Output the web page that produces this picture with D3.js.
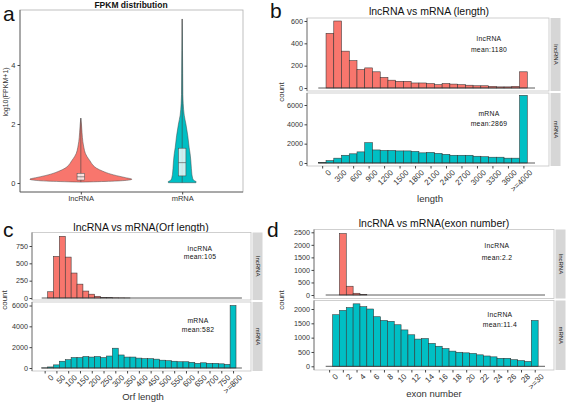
<!DOCTYPE html>
<html><head><meta charset="utf-8">
<script src="https://cdn.jsdelivr.net/npm/d3@7"></script>
<style>body{margin:0;background:#fff}svg{display:block;font-family:"Liberation Sans",Arial,sans-serif}</style>
</head><body><svg id="c" width="567" height="405"></svg>
<script>
// ---------------- DATA ----------------
const groups = ["lncRNA", "mRNA"];
const colors = ["#F8766D", "#00BFC4"];

// panel a: violin density profiles (log10(FPKM+1) level -> relative density)
const lncLevels  = [0.03,0.06,0.1,0.13,0.18,0.25,0.3,0.4,0.5,0.6,0.75,0.9,1.0,1.2,1.4,1.7,2.0,2.2];
const lncDensity = [0,0.6,0.94,1,0.88,0.7,0.59,0.43,0.31,0.24,0.18,0.12,0.09,0.06,0.04,0.024,0.012,0];
const mLevels    = [0.01,0.04,0.1,0.2,0.3,0.5,0.75,1.0,1.2,1.6,2.0,2.3,2.7,3.0,3.7,4.5,5.56];
const mDensity   = [0.27,0.275,0.22,0.2,0.19,0.18,0.17,0.155,0.137,0.11,0.073,0.04,0.02,0.013,0.01,0.006,0];
const boxQ1  = [0.10, 0.24];
const boxMed = [0.21, 0.69];
const boxQ3  = [0.33, 1.18];
const whiskLo = [0.03, 0.01];
const whiskHi = [2.2, 5.56];
const aTicks = [0, 2, 4];

// panel b: transcript length histogram (bin centres, width 150)
const lenBins = [0,150,300,450,600,750,900,1050,1200,1350,1500,1650,1800,1950,2100,2250,2400,2550,2700,2850,3000,3150,3300,3450,3600,3750,3900,4050];
const lenLnc  = [0,490,600,330,245,165,180,145,95,70,60,60,45,45,40,30,40,35,30,25,20,20,15,10,10,15,145,0];
const lenM    = [50,250,500,800,950,1150,2100,1350,1300,1300,1250,1250,1200,1050,1100,1000,900,800,800,800,700,650,600,600,500,500,7000,0];
const lenTicks = [0,300,600,900,1200,1500,1800,2100,2400,2700,3000,3300,3600,3900];
const lenTickLabels = ["0","300","600","900","1200","1500","1800","2100","2400","2700","3000","3300","3600",">=4000"];
const lenYTop = [0,200,400,600];
const lenYBot = [0,2000,4000,6000];

// panel c: ORF length histogram (bin centres, width 25)
const orfBins = [0,25,50,75,100,125,150,175,200,225,250,275,300,325,350,375,400,425,450,475,500,525,550,575,600,625,650,675,700,725,750,775,800,825];
const orfLnc  = [0,90,600,890,590,360,200,100,55,25,10,5,3,2,1,0,0,0,0,0,0,0,0,0,0,0,0,0,0,0,0,0,0,0];
const orfM    = [10,100,300,650,800,1000,1000,1100,1050,1100,1000,1150,1900,1250,1050,1050,950,900,900,850,750,700,650,600,600,550,450,500,450,450,400,350,6000,0];
const orfTicks = [0,50,100,150,200,250,300,350,400,450,500,550,600,650,700,750,800];
const orfTickLabels = ["0","50","100","150","200","250","300","350","400","450","500","550","600","650","700","750",">=800"];
const orfYTop = [0,250,500,750];
const orfYBot = [0,2000,4000,6000];

// panel d: exon number histogram (bin centres, width 1)
const exonBins = [0,1,2,3,4,5,6,7,8,9,10,11,12,13,14,15,16,17,18,19,20,21,22,23,24,25,26,27,28,29,30,31];
const exonLnc  = [0,0,2450,350,70,20,0,0,0,0,0,0,0,0,0,0,0,0,0,0,0,0,0,0,0,0,0,0,0,0,0,0];
const exonM    = [0,1800,1950,2050,2180,2080,2000,1730,1600,1570,1450,1270,1100,950,970,800,700,620,530,490,470,450,400,360,330,280,280,230,200,170,1600,0];
const exonTicks = [0,2,4,6,8,10,12,14,16,18,20,22,24,26,28,30];
const exonTickLabels = ["0","2","4","6","8","10","12","14","16","18","20","22","24","26","28",">=30"];
const exonYTop = [0,500,1000,1500,2000,2500];
const exonYBot = [0,500,1000,1500,2000];

// ---------------- DRAW ----------------
const svg = d3.select("#c");
const TXT = "#333";
const fmt = d3.format("d");

function letter(t, x, y) {
  svg.append("text").attr("x", x).attr("y", y).attr("font-size", 21).attr("fill", "#111").text(t);
}

// ===== Panel a =====
(function () {
  const P = {x0: 20, x1: 243, y0: 10, y1: 192};
  const x = d3.scalePoint().domain(groups).range([P.x0, P.x1]).padding(0.6);
  const y = d3.scaleLinear().domain([0, 4]).range([183, 65]);
  const w = d3.scaleLinear().domain([0, 1]).range([0, 51]);
  letter("a", 3, 21);
  svg.append("text").attr("x", 131).attr("y", 8).attr("text-anchor", "middle")
    .attr("font-size", 8.5).attr("font-weight", "bold").attr("fill", "#111").text("FPKM distribution");
  svg.append("rect").attr("x", P.x0).attr("y", P.y0).attr("width", P.x1 - P.x0).attr("height", P.y1 - P.y0)
    .attr("fill", "#fff").attr("stroke", "#b0b0b0").attr("stroke-width", 0.8);
  svg.append("line").attr("x1", P.x0).attr("x2", P.x0).attr("y1", P.y0).attr("y2", P.y1).attr("stroke", "#555").attr("stroke-width", 0.8);
  svg.append("line").attr("x1", P.x0).attr("x2", P.x1).attr("y1", P.y1).attr("y2", P.y1).attr("stroke", "#555").attr("stroke-width", 0.8);

  const profiles = [
    lncLevels.map((l, i) => ({l, d: lncDensity[i]})),
    mLevels.map((l, i) => ({l, d: mDensity[i]}))
  ];
  groups.forEach((g, gi) => {
    const cx = x(g);
    const area = d3.area().y(d => y(d.l)).x0(d => cx - w(d.d)).x1(d => cx + w(d.d)).curve(d3.curveMonotoneY);
    svg.append("path").datum(profiles[gi]).attr("d", area)
      .attr("fill", colors[gi]).attr("stroke", "#444").attr("stroke-width", 0.5);
    svg.append("line").attr("x1", cx).attr("x2", cx).attr("y1", y(whiskLo[gi])).attr("y2", y(whiskHi[gi]))
      .attr("stroke", "#444").attr("stroke-width", 0.6);
    const bw = 7.5;
    svg.append("rect").attr("x", cx - bw / 2).attr("width", bw).attr("y", y(boxQ3[gi])).attr("height", y(boxQ1[gi]) - y(boxQ3[gi]))
      .attr("fill", "#fff").attr("fill-opacity", 0.78).attr("stroke", "#444").attr("stroke-width", 0.5);
    svg.append("line").attr("x1", cx - bw / 2).attr("x2", cx + bw / 2).attr("y1", y(boxMed[gi])).attr("y2", y(boxMed[gi]))
      .attr("stroke", "#444").attr("stroke-width", 0.6);
  });
  // axes
  const ya = svg.append("g").attr("transform", `translate(${P.x0},0)`)
    .call(d3.axisLeft(y).tickValues(aTicks).tickFormat(fmt).tickSize(2.5).tickPadding(2));
  ya.select(".domain").remove();
  ya.selectAll("text").attr("font-size", 7.5).attr("fill", TXT).attr("font-family", null);
  ya.selectAll("line").attr("stroke", "#444");
  const xa = svg.append("g").attr("transform", `translate(0,${P.y1})`)
    .call(d3.axisBottom(x).tickSize(2.5).tickPadding(1.5));
  xa.select(".domain").remove();
  xa.selectAll("text").attr("font-size", 7.5).attr("fill", TXT).attr("font-family", null);
  xa.selectAll("line").attr("stroke", "#444");
  svg.append("text").attr("transform", "translate(7.5,92) rotate(-90)").attr("text-anchor", "middle")
    .attr("font-size", 7).attr("fill", TXT).text("log10(FPKM+1)");
})();

// ===== Histogram panels =====
function histPanel(o) {
  letter(o.letter, o.letterPos[0], o.letterPos[1]);
  svg.append("text").attr("x", o.titleX).attr("y", o.titleY).attr("text-anchor", "middle")
    .attr("font-size", 10.5).attr("fill", "#111").text(o.title);
  const x = d3.scaleLinear().domain(o.xDom).range(o.xRange);
  const half = o.binW / 2;
  o.facets.forEach((f, fi) => {
    svg.append("rect").attr("x", o.px0).attr("y", f.py0).attr("width", o.px1 - o.px0).attr("height", f.py1 - f.py0)
      .attr("fill", "#fff").attr("stroke", "#c4c4c4").attr("stroke-width", 0.8);
    svg.append("line").attr("x1", o.px0).attr("x2", o.px0).attr("y1", f.py0).attr("y2", f.py1)
      .attr("stroke", "#666").attr("stroke-width", 0.8);
    const y = d3.scaleLinear().domain([0, f.refVal]).range([f.zeroY, f.refY]);
    const data = o.bins.map((b, i) => ({b, v: f.values[i]}));
    svg.append("g").selectAll("rect").data(data.filter(d => d.v > 0)).join("rect")
      .attr("x", d => x(d.b - half)).attr("width", d => x(d.b + half) - x(d.b - half))
      .attr("y", d => y(d.v)).attr("height", d => y(0) - y(d.v))
      .attr("fill", colors[fi]).attr("stroke", "#333").attr("stroke-width", 0.55);
    svg.append("line").attr("x1", x(o.bins[0] - half)).attr("x2", x(o.bins[o.bins.length - 1] + half))
      .attr("y1", y(0)).attr("y2", y(0)).attr("stroke", "#333").attr("stroke-width", 0.8);
    const ya = svg.append("g").attr("transform", `translate(${o.px0},0)`)
      .call(d3.axisLeft(y).tickValues(f.yTicks).tickFormat(fmt).tickSize(2.5).tickPadding(1.5));
    ya.select(".domain").remove();
    ya.selectAll("text").attr("font-size", 7.2).attr("fill", TXT).attr("font-family", null);
    ya.selectAll("line").attr("stroke", "#444");
    // strip
    svg.append("rect").attr("x", o.px1 + 1.5).attr("y", f.py0).attr("width", 10).attr("height", f.py1 - f.py0)
      .attr("fill", "#d6d6d6");
    svg.append("text").attr("transform", `translate(${o.px1 + 4.5},${(f.py0 + f.py1) / 2}) rotate(90)`)
      .attr("text-anchor", "middle").attr("font-size", 6).attr("fill", "#222").text(groups[fi]);
    // annotation
    f.ann.forEach((t, k) => {
      svg.append("text").attr("x", f.annX).attr("y", f.annY[k]).attr("text-anchor", "middle")
        .attr("font-size", 6.8).attr("letter-spacing", 0.3).attr("fill", "#111").text(t);
    });
  });
  const last = o.facets[o.facets.length - 1];
  const xa = svg.append("g").attr("transform", `translate(0,${last.py1})`)
    .call(d3.axisBottom(x).tickValues(o.ticks).tickFormat((d, i) => o.tickLabels[i]).tickSize(2.5));
  xa.select(".domain").remove();
  xa.selectAll("line").attr("stroke", "#444");
  xa.selectAll("text").attr("font-size", 8).attr("fill", TXT).attr("font-family", null)
    .attr("text-anchor", "end").attr("transform", "translate(3,1) rotate(-45)").attr("dy", "0.7em").attr("y", 3);
  svg.append("text").attr("x", o.xTitleX).attr("y", o.xTitleY).attr("text-anchor", "middle")
    .attr("font-size", 9.5).attr("fill", TXT).text(o.xTitle);
  svg.append("text").attr("transform", `translate(${o.yTitleX},${o.yTitleY}) rotate(-90)`).attr("text-anchor", "middle")
    .attr("font-size", 8).attr("fill", TXT).text("count");
}

histPanel({
  letter: "b", letterPos: [270, 18],
  title: "lncRNA vs mRNA (length)", titleX: 429, titleY: 15,
  px0: 307, px1: 549, bins: lenBins, binW: 150,
  xDom: [-75, 4125], xRange: [318.3, 535],
  ticks: lenTicks, tickLabels: lenTickLabels,
  xTitle: "length", xTitleX: 430, xTitleY: 202, yTitleX: 284, yTitleY: 92,
  facets: [
    {py0: 18, py1: 91, zeroY: 88, refVal: 600, refY: 21, values: lenLnc, yTicks: lenYTop,
     ann: ["lncRNA", "mean:1180"], annX: 489, annY: [40.5, 51.5]},
    {py0: 93, py1: 166, zeroY: 163, refVal: 6000, refY: 105, values: lenM, yTicks: lenYBot,
     ann: ["mRNA", "mean:2869"], annX: 489, annY: [115.5, 126]}
  ]
});

histPanel({
  letter: "c", letterPos: [3, 237],
  title: "lncRNA vs mRNA(Orf length)", titleX: 141, titleY: 230.5,
  px0: 32, px1: 251, bins: orfBins, binW: 25,
  xDom: [-12.5, 837.5], xRange: [41.7, 241.9],
  ticks: orfTicks, tickLabels: orfTickLabels,
  xTitle: "Orf length", xTitleX: 143, xTitleY: 400, yTitleX: 7, yTitleY: 300,
  facets: [
    {py0: 232.5, py1: 300, zeroY: 298, refVal: 750, refY: 246, values: orfLnc, yTicks: orfYTop,
     ann: ["lncRNA", "mean:105"], annX: 200, annY: [250.5, 259]},
    {py0: 302, py1: 371, zeroY: 368, refVal: 6000, refY: 305.5, values: orfM, yTicks: orfYBot,
     ann: ["mRNA", "mean:582"], annX: 198, annY: [322.5, 332]}
  ]
});

histPanel({
  letter: "d", letterPos: [267, 237],
  title: "lncRNA vs mRNA(exon number)", titleX: 434, titleY: 226.5,
  px0: 314, px1: 554, bins: exonBins, binW: 1,
  xDom: [-0.5, 31.5], xRange: [325.7, 545],
  ticks: exonTicks, tickLabels: exonTickLabels,
  xTitle: "exon number", xTitleX: 434, xTitleY: 397, yTitleX: 284, yTitleY: 300,
  facets: [
    {py0: 229.5, py1: 298.5, zeroY: 295, refVal: 2500, refY: 232.3, values: exonLnc, yTicks: exonYTop,
     ann: ["lncRNA", "mean:2.2"], annX: 497, annY: [248, 260]},
    {py0: 300.5, py1: 370, zeroY: 366.3, refVal: 2000, refY: 309, values: exonM, yTicks: exonYBot,
     ann: ["lncRNA", "mean:11.4"], annX: 500, annY: [317, 327]}
  ]
});
</script></body></html>
